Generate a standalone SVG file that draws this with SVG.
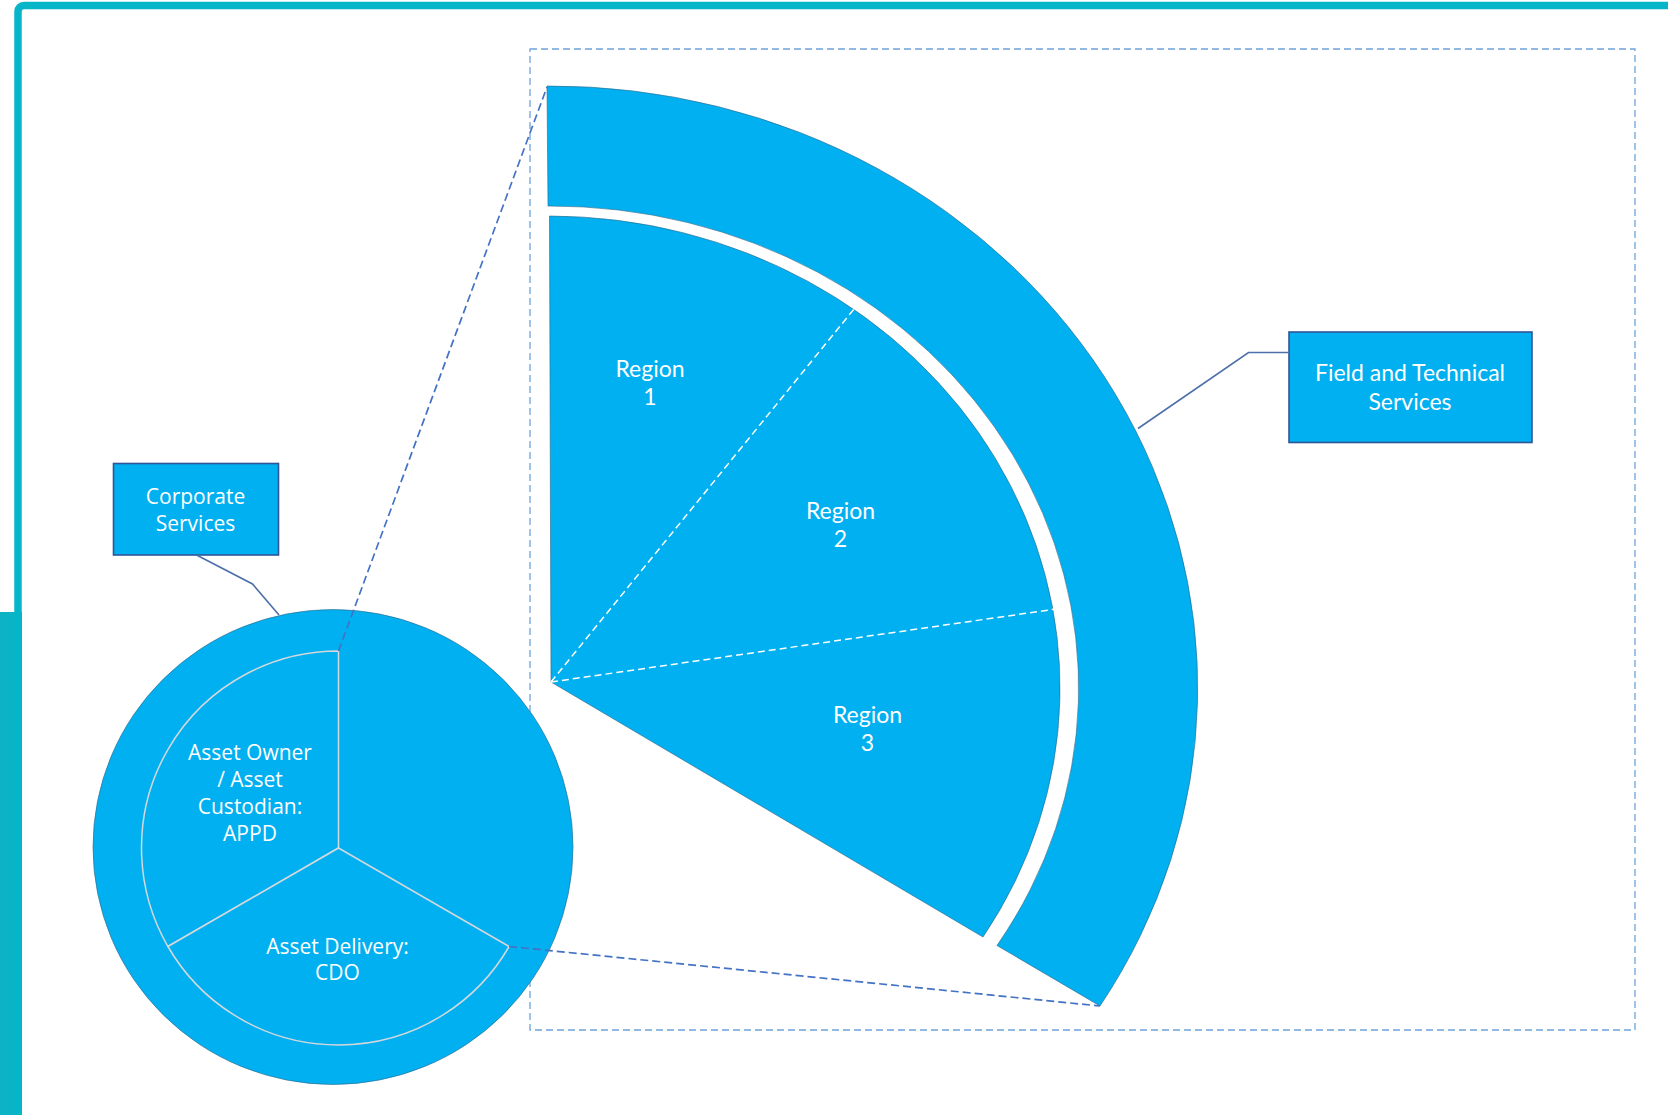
<svg xmlns="http://www.w3.org/2000/svg" width="1668" height="1115" viewBox="0 0 1668 1115">
<style>
.shape{fill:#00B0F0;stroke:#2e6b8e;stroke-width:0.8;stroke-opacity:0.8}
.seg{fill:#00B0F0;stroke:#d4d8dc;stroke-width:1.5;stroke-linejoin:round}
.box{fill:#00B0F0;stroke:#2F5597;stroke-width:1.6}
.sego{font-family:"Open Sans","Noto Sans",sans-serif;font-size:21px;fill:#ffffff;text-anchor:middle}
.cal{font-family:Lato,"Liberation Sans",sans-serif;font-size:23px;fill:#ffffff;text-anchor:middle}
.callout{fill:none;stroke:#4d6fa9;stroke-width:1.6}
.zoomline{fill:none;stroke:#4472C4;stroke-width:1.7;stroke-dasharray:8 4}
.divider{fill:none;stroke:#ffffff;stroke-width:1.5;stroke-dasharray:7 4}
</style>
<rect x="0" y="0" width="1668" height="1115" fill="#ffffff"/>
<g id="frame">
  <rect x="0" y="612" width="22" height="503" fill="#0bb3c5"/>
  <rect x="18" y="5.5" width="1700" height="1200" rx="6" fill="none" stroke="#07B5C9" stroke-width="7.5"/>
</g>
<g id="zoom-area">
  <rect x="530" y="49" width="1105" height="981" fill="none" stroke="#6fa3dc" stroke-width="1.3" stroke-dasharray="7 4"/>
</g>
<g id="field-technical-band">
  <path class="shape" d="M 547,86 A 647.5 602 0 0 1 1100,1006 L 997,945.5 A 528 482 0 0 0 548,206 Z"/>
</g>
<g id="regions">
  <path class="shape" d="M 551,682 L 549.5,216 A 512 472 0 0 1 983,937 Z"/>
  <path class="divider" d="M 551,682 L 854,309"/>
  <path class="divider" d="M 551,682 L 1056,609"/>
  <g id="region-1">
    <text class="cal" x="650" y="376.5">Region</text>
    <text class="cal" x="650" y="404.5">1</text>
  </g>
  <g id="region-2">
    <text class="cal" x="840.5" y="518.5">Region</text>
    <text class="cal" x="840.5" y="547">2</text>
  </g>
  <g id="region-3">
    <text class="cal" x="867.5" y="722.5">Region</text>
    <text class="cal" x="867.5" y="751">3</text>
  </g>
</g>
<g id="corporate-circle">
  <ellipse class="shape" cx="333" cy="847" rx="240" ry="237.5"/>
  <path fill="#00B0F0" d="M 338.5,848 L 338.5,651 A 197 197 0 0 1 509.1,946.5 Z"/>
  <g id="asset-owner">
    <path class="seg" d="M 338.5,848 L 338.5,651 A 197 197 0 0 0 167.9,946.5 Z"/>
    <text class="sego" x="250" y="759.5">Asset Owner</text>
    <text class="sego" x="250" y="786.5">/ Asset</text>
    <text class="sego" x="250" y="813.5">Custodian:</text>
    <text class="sego" x="250" y="840.5">APPD</text>
  </g>
  <g id="asset-delivery">
    <path class="seg" d="M 338.5,848 L 167.9,946.5 A 197 197 0 0 0 509.1,946.5 Z"/>
    <text class="sego" x="337.5" y="953.5">Asset Delivery:</text>
    <text class="sego" x="337.5" y="980">CDO</text>
  </g>
</g>
<g id="corporate-services">
  <rect class="box" x="113.5" y="463.5" width="165" height="91.5"/>
  <text class="sego" x="195.5" y="503.5">Corporate</text>
  <text class="sego" x="195.5" y="531">Services</text>
</g>
<g id="field-technical-services">
  <rect class="box" x="1289" y="332" width="243" height="110.5"/>
  <text class="cal" x="1410" y="381">Field and Technical</text>
  <text class="cal" x="1410" y="410">Services</text>
</g>
<g id="connectors">
  <polyline class="callout" points="196.5,555 252.5,584 279,615"/>
  <polyline class="callout" points="1138,428.5 1248.5,352.5 1289,352.5"/>
  <line class="zoomline" x1="338.5" y1="651" x2="547" y2="87"/>
  <line class="zoomline" x1="509" y1="946.5" x2="1100" y2="1006"/>
</g>
</svg>
